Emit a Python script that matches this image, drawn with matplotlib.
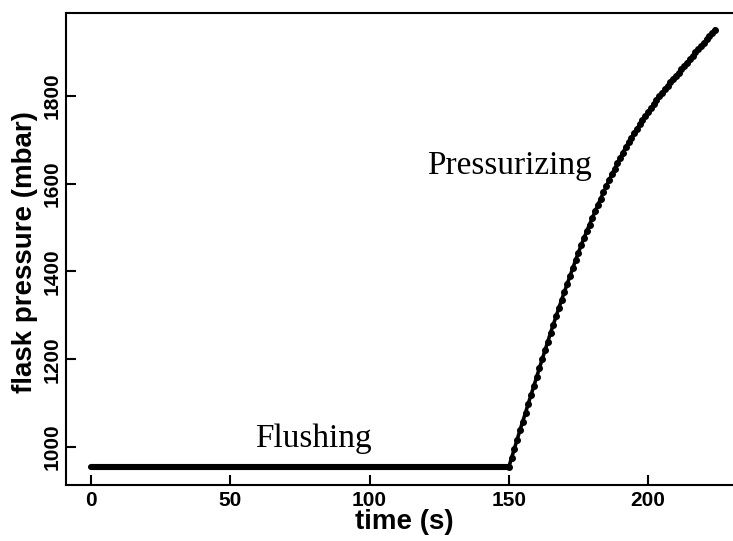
import matplotlib
matplotlib.use("Agg")
import matplotlib.pyplot as plt

# flushing phase: constant flask pressure
flush_t = [0, 150]
flush_p = [954, 954]

# pressurizing phase, one reading per second
press_t = list(range(150, 225))
press_p = [954, 975, 996, 1017, 1038, 1058, 1078, 1099, 1119, 1139,
           1159, 1180, 1200, 1220, 1240, 1260, 1279, 1298, 1317, 1336,
           1354, 1372, 1390, 1408, 1426, 1443, 1460, 1476, 1492, 1507,
           1522, 1537, 1552, 1566, 1580, 1594, 1608, 1621, 1634, 1647,
           1659, 1671, 1683, 1694, 1705, 1715, 1725, 1735, 1745, 1754,
           1763, 1772, 1781, 1790, 1799, 1807, 1815, 1823, 1831, 1838,
           1845, 1853, 1861, 1869, 1876, 1884, 1891, 1899, 1906, 1914,
           1921, 1929, 1936, 1944, 1951]

x_ticks = [0, 50, 100, 150, 200]
y_ticks = [1000, 1200, 1400, 1600, 1800]

sans = "Liberation Sans"
serif = "Liberation Serif"

fig = plt.figure(figsize=(7.33, 5.41), dpi=100)
ax = fig.add_axes([66 / 733, 56 / 541, 667 / 733, 472 / 541])

ax.plot(flush_t, flush_p, color="black", lw=4.4, solid_capstyle="round")
ax.plot(press_t, press_p, color="black", lw=2.6, marker="o", ms=4.0)

ax.set_xlim(-8.98, 230.5)
ax.set_ylim(913.4, 1989)
ax.set_xticks(x_ticks)
ax.set_yticks(y_ticks)

for s in ["left", "bottom", "top"]:
    ax.spines[s].set_linewidth(1.5)
ax.spines["right"].set_visible(False)

ax.tick_params(direction="in", length=7, width=1.5)
ax.tick_params(axis="x", pad=4)
ax.tick_params(axis="y", pad=3)
for lab in ax.get_xticklabels():
    lab.set_fontfamily(sans)
    lab.set_fontweight("bold")
    lab.set_fontsize(15)
for lab in ax.get_yticklabels():
    lab.set_fontfamily(sans)
    lab.set_fontweight("bold")
    lab.set_fontsize(15)
    lab.set_rotation(90)
    lab.set_verticalalignment("center")

fig.text(404 / 733, 1 - 522 / 541, "time (s)", ha="center", va="center",
         fontfamily=sans, fontweight="bold", fontsize=20)
fig.text(25 / 733, 1 - 252 / 541, "flask pressure (mbar)", rotation=90,
         ha="center", va="center", fontfamily=sans, fontweight="bold",
         fontsize=20)

ax.text(58.8, 1000, "Flushing", fontfamily=serif, fontsize=24,
        ha="left", va="baseline")
ax.text(120.6, 1622, "Pressurizing", fontfamily=serif, fontsize=24,
        ha="left", va="baseline")

fig.savefig("out.png", dpi=100)
